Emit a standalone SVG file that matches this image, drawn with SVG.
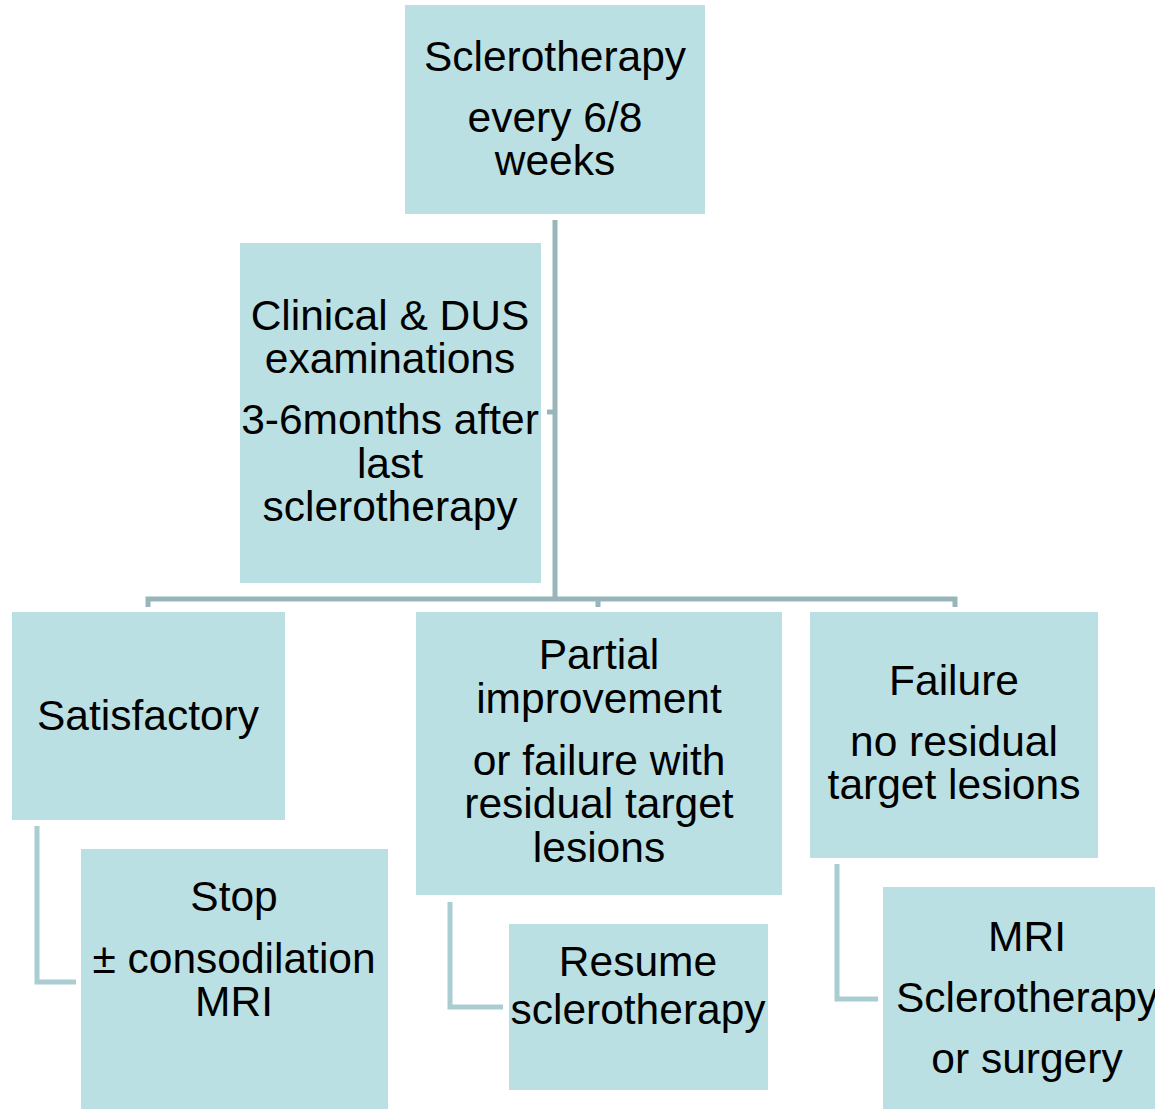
<svg xmlns="http://www.w3.org/2000/svg" width="1155" height="1109" viewBox="0 0 1155 1109">
<style>
.box{fill:#BBE0E3}
.t{font-family:"Liberation Sans",Arial,sans-serif;font-size:42.5px;fill:#000;text-anchor:middle}
.c{fill:none;stroke:#98B6BA;stroke-width:5}
.b{fill:none;stroke:#A9CDD1;stroke-width:5}
</style>
<rect width="1155" height="1109" fill="#fff"/>
<g id="connectors">
<path class="c" d="M555 220 V599"/>
<path class="c" d="M547 412 H555"/>
<path class="c" d="M148 607 V599 H955 V607"/>
<path class="c" d="M598 599 V607"/>
<path class="b" d="M37 826 V982 H76"/>
<path class="b" d="M450 902 V1007 H503"/>
<path class="b" d="M837 864 V999 H878"/>
</g>
<g id="n-top">
<rect class="box" x="405" y="5" width="300" height="209"/>
<text class="t" x="555" y="71">Sclerotherapy</text>
<text class="t" x="555" y="132">every 6/8</text>
<text class="t" x="555" y="175">weeks</text>
</g>
<g id="n-clinical">
<rect class="box" x="240" y="243" width="301" height="340"/>
<text class="t" x="390" y="330">Clinical &amp; DUS</text>
<text class="t" x="390" y="373">examinations</text>
<text class="t" x="390" y="434">3-6months after</text>
<text class="t" x="390" y="478">last</text>
<text class="t" x="390" y="521">sclerotherapy</text>
</g>
<g id="n-satisfactory">
<rect class="box" x="12" y="612" width="273" height="208"/>
<text class="t" x="148" y="730">Satisfactory</text>
</g>
<g id="n-partial">
<rect class="box" x="416" y="612" width="366" height="283"/>
<text class="t" x="599" y="669">Partial</text>
<text class="t" x="599" y="713">improvement</text>
<text class="t" x="599" y="775">or failure with</text>
<text class="t" x="599" y="818">residual target</text>
<text class="t" x="599" y="862">lesions</text>
</g>
<g id="n-failure">
<rect class="box" x="810" y="612" width="288" height="246"/>
<text class="t" x="954" y="695">Failure</text>
<text class="t" x="954" y="756">no residual</text>
<text class="t" x="954" y="799">target lesions</text>
</g>
<g id="n-stop">
<rect class="box" x="81" y="849" width="307" height="260"/>
<text class="t" x="234" y="911">Stop</text>
<text class="t" x="234" y="973">± consodilation</text>
<text class="t" x="234" y="1016">MRI</text>
</g>
<g id="n-resume">
<rect class="box" x="509" y="924" width="259" height="166"/>
<text class="t" x="638" y="976">Resume</text>
<text class="t" x="638" y="1024">sclerotherapy</text>
</g>
<g id="n-mri">
<rect class="box" x="883" y="887" width="272" height="222"/>
<text class="t" x="1027" y="951">MRI</text>
<text class="t" x="1027" y="1012">Sclerotherapy</text>
<text class="t" x="1027" y="1073">or surgery</text>
</g>
</svg>
